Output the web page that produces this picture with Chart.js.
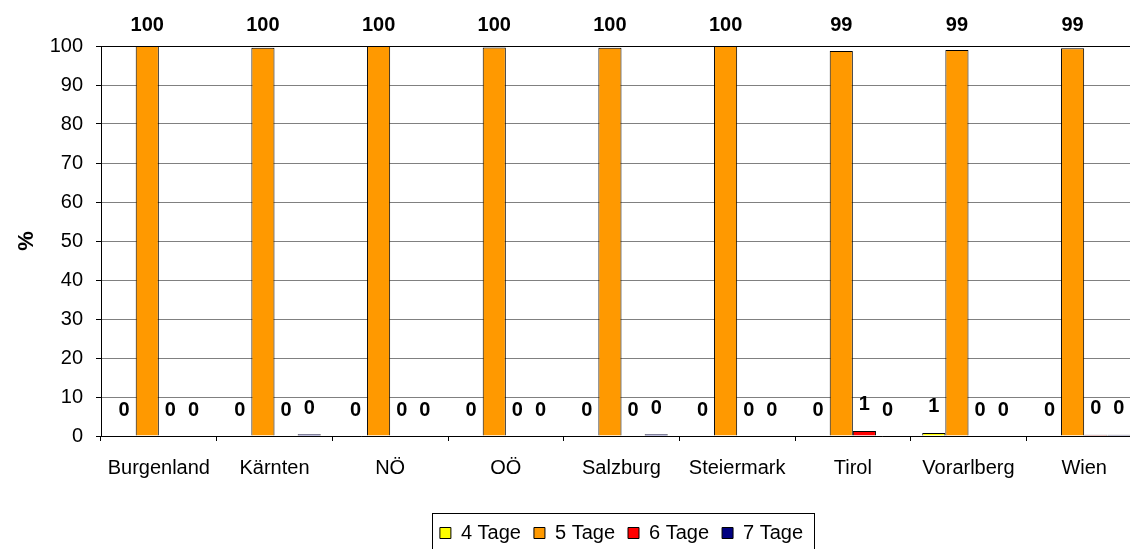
<!DOCTYPE html>
<html>
<head>
<meta charset="utf-8">
<script src="https://cdn.jsdelivr.net/npm/chart.js@4/dist/chart.umd.min.js"></script>
<style>
html,body{margin:0;padding:0;background:#fff;overflow:hidden;}
#wrap{position:relative;width:1145px;height:553px;}
</style>
</head>
<body>
<div id="wrap"><canvas id="c"></canvas></div>
<script>
const categories = ["Burgenland","Kärnten","NÖ","OÖ","Salzburg","Steiermark","Tirol","Vorarlberg","Wien"];
const seriesNames = ["4 Tage","5 Tage","6 Tage","7 Tage"];
const tage4 = [0, 0, 0, 0, 0, 0, 0, 0.8, 0];
const tage5 = [100, 99.55, 100, 99.6, 99.55, 100, 98.7, 99.0, 99.4];
const tage6 = [0, 0, 0, 0, 0, 0, 1.3, 0, 0.3];
const tage7 = [0, 0.45, 0, 0, 0.45, 0, 0, 0, 0.3];
const yTicks = [0,10,20,30,40,50,60,70,80,90,100];
const colors = ["#FFFF00","#FF9900","#FF0000","#000080"];

const FONT = "'Liberation Sans', Arial, sans-serif";

const labelPlugin = {
  id: 'barLabels',
  afterDatasetsDraw(chart) {
    const ctx = chart.ctx;
    ctx.save();
    ctx.font = "bold 20px " + FONT;
    ctx.fillStyle = "#000";
    ctx.textAlign = "center";
    ctx.textBaseline = "middle";
    chart.data.datasets.forEach((ds, di) => {
      const meta = chart.getDatasetMeta(di);
      meta.data.forEach((bar, i) => {
        const v = ds.data[i];
        const y = Math.max(bar.y - 26, 25);
        ctx.fillText(String(Math.round(v)), bar.x, y);
      });
    });
    ctx.restore();
  }
};

const legendBoxPlugin = {
  id: 'legendBox',
  afterDraw(chart) {
    const lg = chart.legend;
    if (!lg || !lg.legendHitBoxes || !lg.legendHitBoxes.length) return;
    const hb = lg.legendHitBoxes;
    const first = hb[0], last = hb[hb.length - 1];
    const x0 = Math.round(first.left - 8) + 0.5;
    const x1 = Math.round(last.left + last.width + 11) + 0.5;
    const y0 = Math.round(first.top - 10) + 0.5;
    const ctx = chart.ctx;
    ctx.save();
    ctx.strokeStyle = "#000";
    ctx.lineWidth = 1;
    ctx.strokeRect(x0, y0, x1 - x0, chart.height + 10 - y0);
    ctx.restore();
  }
};

new Chart(document.getElementById('c'), {
  type: 'bar',
  data: {
    labels: categories,
    datasets: [tage4, tage5, tage6, tage7].map((d, i) => ({
      label: seriesNames[i],
      data: d,
      backgroundColor: colors[i],
      borderColor: "#000",
      borderWidth: 1,
      categoryPercentage: 0.8,
      barPercentage: 1.0
    }))
  },
  options: {
    responsive: true,
    maintainAspectRatio: false,
    animation: false,
    layout: { padding: { left: 0, right: 3, top: 46, bottom: 0 } },
    plugins: {
      tooltip: { enabled: false },
      legend: {
        position: 'bottom',
        fullSize: false,
        labels: {
          color: "#000",
          font: { family: FONT, size: 20 },
          boxWidth: 11,
          boxHeight: 11,
          padding: 13
        }
      }
    },
    scales: {
      x: {
        grid: { display: true, drawOnChartArea: false, drawTicks: true, tickLength: 5, color: "#000", offset: true },
        border: { display: true, color: "#000", width: 1 },
        ticks: { color: "#000", font: { family: FONT, size: 20 }, padding: 15, maxRotation: 0, autoSkip: false },
        afterFit(scale) { scale.height = 74; }
      },
      y: {
        min: 0, max: 100,
        afterBuildTicks(scale) { scale.ticks = yTicks.map(v => ({ value: v })); },
        grid: {
          color: (c) => (c.tick && c.tick.value === 100) ? "#000" : "#808080",
          tickColor: "#000",
          tickLength: 5,
          lineWidth: 1
        },
        border: { display: true, color: "#000", width: 1 },
        ticks: { color: "#000", font: { family: FONT, size: 20 }, padding: 13 },
        title: { display: true, text: "%", color: "#000", font: { family: FONT, size: 22, weight: 'bold' }, padding: { top: 14, bottom: 10 } },
        afterFit(scale) { scale.width = 101; }
      }
    }
  },
  plugins: [labelPlugin, legendBoxPlugin]
});
</script>
</body>
</html>
